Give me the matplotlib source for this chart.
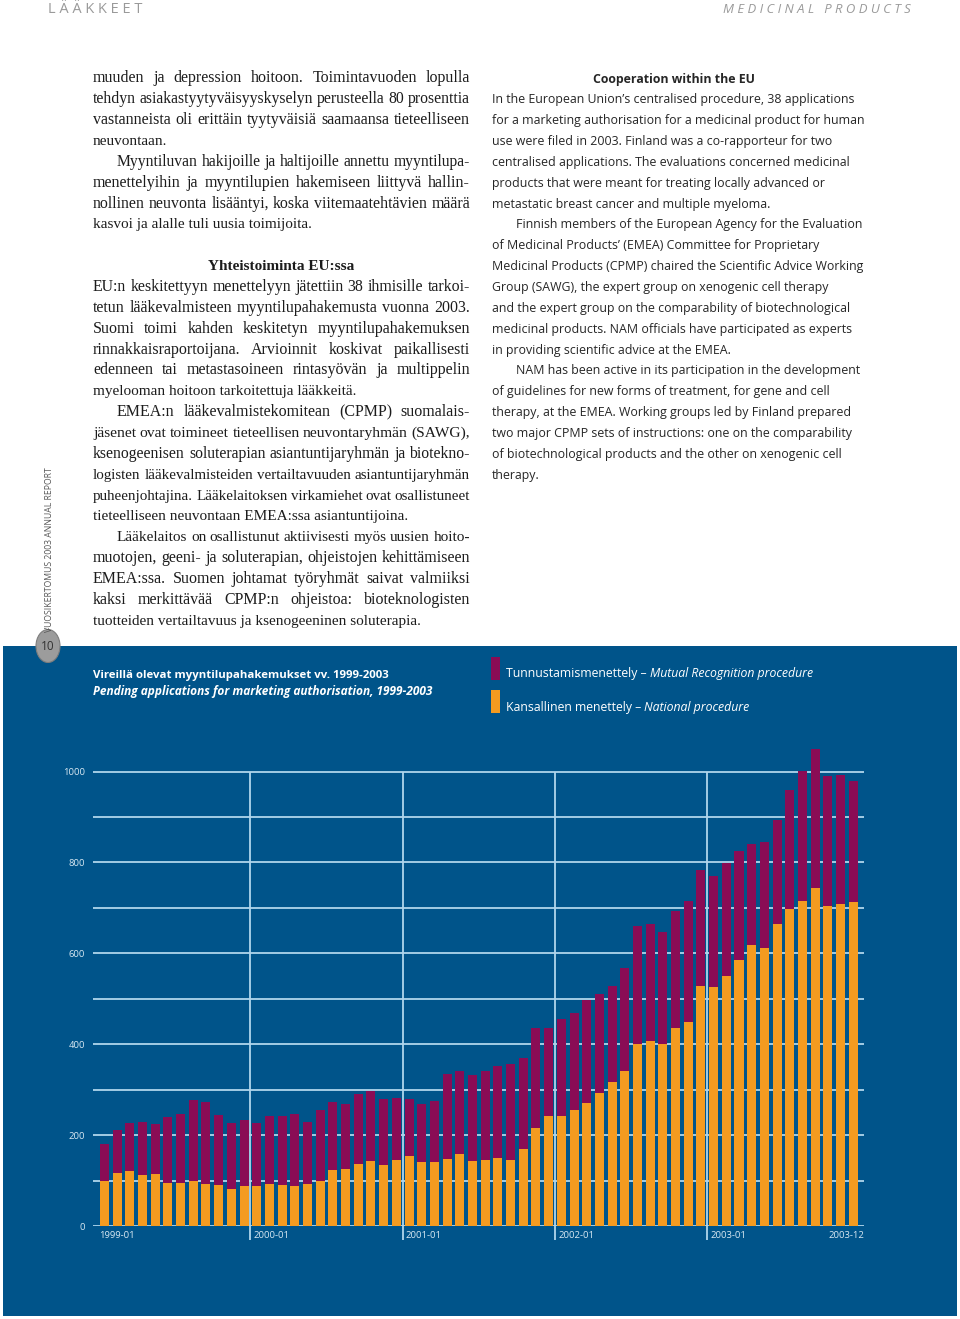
import matplotlib
matplotlib.use("Agg")
import matplotlib.pyplot as plt
from matplotlib.patches import Rectangle, Circle

# ---- data: pending applications per month, 1999-01 .. 2003-12 ----
months = [f"{y}-{m:02d}" for y in range(1999, 2004) for m in range(1, 13)]
national = [98, 117, 120, 113, 115, 95, 95, 99, 93, 91, 82, 88,
            88, 92, 90, 88, 92, 100, 123, 125, 136, 142, 134, 146,
            153, 140, 140, 148, 158, 142, 145, 149, 146, 170, 215, 241,
            241, 255, 271, 293, 316, 341, 400, 407, 400, 435, 449, 529,
            525, 549, 585, 618, 612, 665, 697, 716, 744, 705, 708, 713]
mutual = [82, 94, 106, 115, 109, 144, 151, 178, 179, 153, 145, 145,
          138, 151, 153, 158, 136, 155, 149, 143, 154, 155, 145, 136,
          127, 129, 134, 186, 182, 190, 195, 202, 210, 199, 220, 194,
          214, 213, 226, 217, 213, 227, 260, 258, 247, 257, 265, 254,
          244, 250, 241, 222, 232, 228, 262, 285, 305, 284, 284, 265]
year_starts = ["2000-01", "2001-01", "2002-01", "2003-01"]
y_ticks = [0, 200, 400, 600, 800, 1000]

title_fi = "Vireillä olevat myyntilupahakemukset vv. 1999-2003"
title_en = "Pending applications for marketing authorisation, 1999-2003"
legend_items = [("Tunnustamismenettely – ", "Mutual Recognition procedure"),
                ("Kansallinen menettely – ", "National procedure")]

# body text: (text, indent, justified)
left_lines = [
    ("muuden ja depression hoitoon. Toimintavuoden lopulla", False, True),
    ("tehdyn asiakastyytyväisyyskyselyn perusteella 80 prosenttia", False, True),
    ("vastanneista oli erittäin tyytyväisiä saamaansa tieteelliseen", False, True),
    ("neuvontaan.", False, False),
    ("Myyntiluvan hakijoille ja haltijoille annettu myyntilupa-", True, True),
    ("menettelyihin ja myyntilupien hakemiseen liittyvä hallin-", False, True),
    ("nollinen neuvonta lisääntyi, koska viitemaatehtävien määrä", False, True),
    ("kasvoi ja alalle tuli uusia toimijoita.", False, False),
    ("", False, False),
    ("#Yhteistoiminta EU:ssa", False, False),
    ("EU:n keskitettyyn menettelyyn jätettiin 38 ihmisille tarkoi-", False, True),
    ("tetun lääkevalmisteen myyntilupahakemusta vuonna 2003.", False, True),
    ("Suomi toimi kahden keskitetyn myyntilupahakemuksen", False, True),
    ("rinnakkaisraportoijana. Arvioinnit koskivat paikallisesti", False, True),
    ("edenneen tai metastasoineen rintasyövän ja multippelin", False, True),
    ("myelooman hoitoon tarkoitettuja lääkkeitä.", False, False),
    ("EMEA:n lääkevalmistekomitean (CPMP) suomalais-", True, True),
    ("jäsenet ovat toimineet tieteellisen neuvontaryhmän (SAWG),", False, True),
    ("ksenogeenisen soluterapian asiantuntijaryhmän ja biotekno-", False, True),
    ("logisten lääkevalmisteiden vertailtavuuden asiantuntijaryhmän", False, True),
    ("puheenjohtajina. Lääkelaitoksen virkamiehet ovat osallistuneet", False, True),
    ("tieteelliseen neuvontaan EMEA:ssa asiantuntijoina.", False, False),
    ("Lääkelaitos on osallistunut aktiivisesti myös uusien hoito-", True, True),
    ("muotojen, geeni- ja soluterapian, ohjeistojen kehittämiseen", False, True),
    ("EMEA:ssa. Suomen johtamat työryhmät saivat valmiiksi", False, True),
    ("kaksi merkittävää CPMP:n ohjeistoa: bioteknologisten", False, True),
    ("tuotteiden vertailtavuus ja ksenogeeninen soluterapia.", False, False),
]
right_lines = [
    ("#Cooperation within the EU", False),
    ("In the European Union’s centralised procedure, 38 applications", False),
    ("for a marketing authorisation for a medicinal product for human", False),
    ("use were filed in 2003. Finland was a co-rapporteur for two", False),
    ("centralised applications. The evaluations concerned medicinal", False),
    ("products that were meant for treating locally advanced or", False),
    ("metastatic breast cancer and multiple myeloma.", False),
    ("Finnish members of the European Agency for the Evaluation", True),
    ("of Medicinal Products’ (EMEA) Committee for Proprietary", False),
    ("Medicinal Products (CPMP) chaired the Scientific Advice Working", False),
    ("Group (SAWG), the expert group on xenogenic cell therapy", False),
    ("and the expert group on the comparability of biotechnological", False),
    ("medicinal products. NAM officials have participated as experts", False),
    ("in providing scientific advice at the EMEA.", False),
    ("NAM has been active in its participation in the development", True),
    ("of guidelines for new forms of treatment, for gene and cell", False),
    ("therapy, at the EMEA. Working groups led by Finland prepared", False),
    ("two major CPMP sets of instructions: one on the comparability", False),
    ("of biotechnological products and the other on xenogenic cell", False),
    ("therapy.", False),
]

BLUE = "#00548a"
PURPLE = "#8a0c55"
ORANGE = "#f49b20"
GRID = "#b0d6ec"
LABEL = "#d8e8f2"

W, H = 960, 1319
fig = plt.figure(figsize=(W / 100, H / 100), dpi=100)
renderer = fig.canvas.get_renderer()


def fx(px):
    return px / W


def fy(py):
    return 1 - py / H


def width_of(t):
    return t.get_window_extent(renderer).width


def fit(t, target):
    # scale font so the text spans the target pixel width
    for _ in range(2):
        t.set_fontsize(t.get_fontsize() * target / width_of(t))


def justify(line, x0, x1, y, size, **kw):
    # let the font size breathe a little so word gaps stay even
    whole = fig.text(0, 0, line, fontsize=size, **kw)
    nat = width_of(whole)
    whole.remove()
    size = size * min(max((x1 - x0) / nat, 0.95), 1.05)
    words = line.split()
    texts = [fig.text(0, fy(y), w, va="baseline", fontsize=size, **kw) for w in words]
    widths = [width_of(t) for t in texts]
    gap = (x1 - x0 - sum(widths)) / max(len(words) - 1, 1)
    x = x0
    for t, w in zip(texts, widths):
        t.set_x(fx(x))
        x += w + gap


# ---- page header ----
h1 = fig.text(fx(48), fy(13), "L Ä Ä K K E E T", fontsize=9.5, color="#9a9a9a",
              family="Open Sans", va="baseline")
fit(h1, 95)
h2 = fig.text(fx(911), fy(13), "M E D I C I N A L   P R O D U C T S", fontsize=8.5,
              color="#9a9a9a", family="Open Sans", style="italic", ha="right",
              va="baseline")
fit(h2, 187)

# ---- left column (serif, justified) ----
serif = dict(family="Liberation Serif", color="#1c1c1c")
probe = fig.text(0, 0, "tuotteiden vertailtavuus ja ksenogeeninen soluterapia.",
                 fontsize=10, **serif)
fit(probe, 330)
lsize = probe.get_fontsize()
probe.remove()
LX0, LX1 = 93, 470
for k, (line, indent, just) in enumerate(left_lines):
    yb = 82.5 + 20.85 * k
    if not line:
        continue
    if line.startswith("#"):
        fig.text(fx((LX0 + LX1) / 2), fy(yb), line[1:], ha="center", va="baseline",
                 fontsize=lsize, weight="bold", **serif)
        continue
    x0 = LX0 + (24 if indent else 0)
    if just:
        justify(line, x0, LX1, yb, lsize, **serif)
    else:
        fig.text(fx(x0), fy(yb), line, va="baseline", fontsize=lsize, **serif)

# ---- right column (sans, ragged) ----
sans = dict(family="Open Sans", color="#262626")
probe = fig.text(0, 0, right_lines[1][0], fontsize=9, **sans)
fit(probe, 364)
rsize = probe.get_fontsize()
probe.remove()
RX0 = 491.5
for k, (line, indent) in enumerate(right_lines):
    yb = 82.5 + 20.85 * k
    if line.startswith("#"):
        fig.text(fx(673.5), fy(yb), line[1:], ha="center", va="baseline",
                 fontsize=rsize, weight="bold", **sans)
        continue
    fig.text(fx(RX0 + (24 if indent else 0)), fy(yb), line, va="baseline",
             fontsize=rsize, **sans)

# ---- side label and page number ----
fig.text(fx(50), fy(550), "VUOSIKERTOMUS 2003 ANNUAL REPORT", rotation=90,
         ha="center", va="center", fontsize=6.2, color="#555555", family="Open Sans")
fig.add_artist(plt.Line2D([fx(48), fx(48)], [fy(628), fy(636)], color="#888888", lw=0.6))

# ---- blue panel ----
fig.add_artist(Rectangle((fx(3), fy(1316)), fx(954), (1316 - 646) / H,
                         facecolor=BLUE, edgecolor="none", zorder=0))
fig.add_artist(Circle((fx(48), fy(646)), 12 / W, facecolor="#9c9c9c",
                      edgecolor="#7d7d7d", lw=0.8, zorder=3,
                      transform=fig.transFigure))
fig.text(fx(48), fy(646), "10", ha="center", va="center", fontsize=8.5,
         color="#333333", family="Open Sans", zorder=4)

# title
t1 = fig.text(fx(93), fy(678), title_fi, color="white", weight="bold",
              family="Open Sans", fontsize=8, va="baseline")
fit(t1, 295)
t2 = fig.text(fx(93), fy(695), title_en, color="white", weight="bold",
              style="italic", family="Open Sans", fontsize=8, va="baseline")
fit(t2, 341)

# legend
for (a, b), color, ytop, ybase, span in [(legend_items[0], PURPLE, 657, 677, 307),
                                         (legend_items[1], ORANGE, 690, 711, 243)]:
    fig.add_artist(Rectangle((fx(491), fy(ytop + 23)), fx(8.5), 23 / H,
                             facecolor=color, edgecolor="none"))
    ta = fig.text(fx(506), fy(ybase), a, color="white", family="Open Sans",
                  fontsize=8.2, va="baseline")
    tb = fig.text(0, fy(ybase), b, color="white", family="Open Sans",
                  style="italic", fontsize=8.2, va="baseline")
    scale = span / (width_of(ta) + width_of(tb))
    ta.set_fontsize(8.2 * scale)
    tb.set_fontsize(8.2 * scale)
    tb.set_x(fx(506 + width_of(ta)))

# ---- chart ----
ax = fig.add_axes([fx(93.3), fy(1226), fx(864 - 93.3), 1100 * 0.4545 / H])
ax.patch.set_visible(False)
for s in ax.spines.values():
    s.set_visible(False)
x = list(range(len(months)))
ax.set_xlim(-0.88, 59.85)
ax.set_ylim(0, 1100)

for v in range(0, 1001, 100):
    ax.axhline(v, color=GRID, lw=1.3, zorder=0)
bounds = [months.index(m) - 0.5 for m in year_starts]
ax.vlines(bounds, -30, 1000, color=GRID, lw=1.3, zorder=0, clip_on=False)

ax.bar(x, national, width=0.71, color=ORANGE, zorder=2, linewidth=0)
ax.bar(x, mutual, width=0.71, bottom=national, color=PURPLE, zorder=2, linewidth=0)

ax.set_yticks(y_ticks)
ax.set_yticklabels([str(v) for v in y_ticks], family="Open Sans", fontsize=6.8,
                   color=LABEL)
ax.tick_params(axis="y", length=0, pad=6)
ax.set_xticks([])

lab = dict(family="Open Sans", fontsize=6.8, color=LABEL, va="top")
ax.text(-0.43, -10, months[0], ha="left", **lab)
for b, m in zip(bounds, year_starts):
    ax.text(b + 0.26, -10, m, ha="left", **lab)
ax.text(59.85, -10, months[-1], ha="right", **lab)

fig.savefig("out.png", dpi=100)
